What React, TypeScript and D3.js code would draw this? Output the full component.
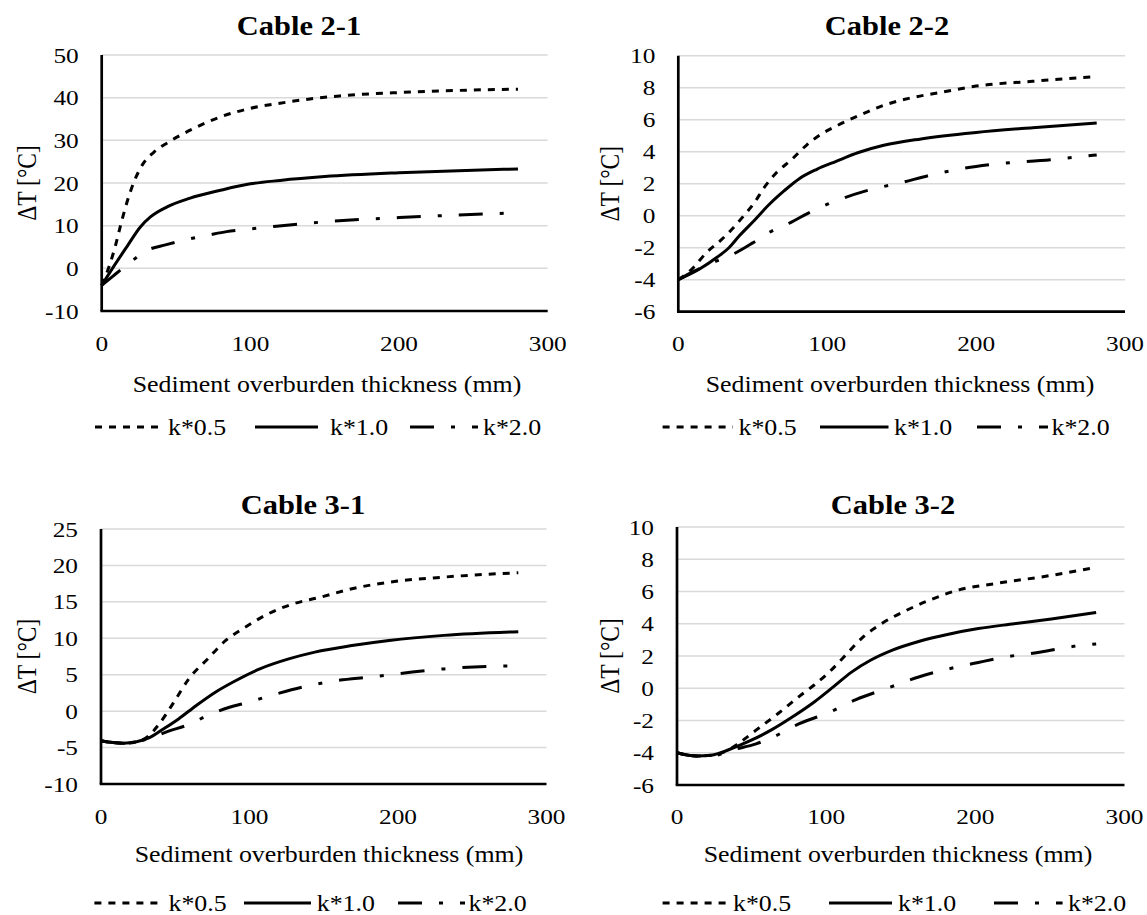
import React from "react";
import * as d3 from "d3";

// ---------- DATA ----------
const cableTitles = ["Cable 2-1", "Cable 2-2", "Cable 3-1", "Cable 3-2"];
const seriesNames = ["k*0.5", "k*1.0", "k*2.0"];
const xTicks = [0, 100, 200, 300];
const yTicks21 = [-10, 0, 10, 20, 30, 40, 50];
const yTicks22 = [-6, -4, -2, 0, 2, 4, 6, 8, 10];
const yTicks31 = [-10, -5, 0, 5, 10, 15, 20, 25];
const yTicks32 = [-6, -4, -2, 0, 2, 4, 6, 8, 10];

// Cable 2-1
const c21_k05_x = [0, 3, 6, 9, 13, 17, 22, 28, 35, 44, 53, 62, 80, 100, 120, 140, 160, 200, 240, 280];
const c21_k05_y = [-4, -1.5, 1.5, 5, 10.5, 15.5, 20.5, 24.6, 27.2, 29.4, 31.2, 32.8, 35.5, 37.5, 38.7, 39.7, 40.4, 41.2, 41.7, 42];
const c21_k10_x = [0, 8, 17, 26, 33, 44, 59, 80, 100, 120, 150, 200, 240, 280];
const c21_k10_y = [-4, 0.4, 5.1, 9.7, 12.1, 14.4, 16.4, 18.3, 19.8, 20.6, 21.5, 22.4, 22.9, 23.3];
const c21_k20_x = [0, 7, 17, 31, 43, 55, 72, 84, 96, 113, 150, 200, 240, 280];
const c21_k20_y = [-4, -2, 0.8, 4.3, 5.5, 6.6, 7.8, 8.6, 9.1, 9.7, 10.9, 11.9, 12.5, 13];

// Cable 2-2
const c22_k05_x = [0, 9, 19, 29, 36, 44, 51, 58, 66, 76, 86, 96, 106, 121, 138, 158, 176, 200, 238, 281];
const c22_k05_y = [-4, -3.35, -2.3, -1.5, -0.85, 0, 0.8, 1.8, 2.7, 3.5, 4.4, 5.1, 5.6, 6.25, 6.9, 7.4, 7.7, 8.1, 8.4, 8.7];
const c22_k10_x = [0, 14, 26, 34, 41, 51, 61, 71, 81, 93, 106, 121, 138, 163, 200, 238, 281];
const c22_k10_y = [-4, -3.35, -2.6, -2, -1.26, -0.3, 0.7, 1.55, 2.3, 2.9, 3.4, 3.95, 4.4, 4.8, 5.2, 5.5, 5.8];
const c22_k20_x = [0, 11, 24, 39, 50, 61, 76, 87, 101, 126, 151, 168, 188, 210, 250, 281];
const c22_k20_y = [-4, -3.45, -2.9, -2.3, -1.7, -1.05, -0.4, 0.15, 0.75, 1.55, 2.1, 2.5, 2.9, 3.2, 3.5, 3.8];

// Cable 3-1
const c31_k05_x = [0, 8, 15, 24, 32, 39, 49, 59, 72, 84, 97, 112, 129, 147, 169, 194, 231, 281];
const c31_k05_y = [-4.05, -4.3, -4.4, -4.2, -3.4, -1.8, 1.2, 4.4, 7.2, 9.7, 11.5, 13.3, 14.7, 15.6, 16.8, 17.7, 18.4, 19];
const c31_k10_x = [0, 8, 15, 24, 33, 42, 52, 64, 77, 89, 107, 127, 144, 169, 194, 231, 281];
const c31_k10_y = [-4.05, -4.3, -4.4, -4.2, -3.6, -2.45, -1.1, 0.75, 2.6, 4, 5.8, 7.2, 8.1, 9, 9.7, 10.4, 10.9];
const c31_k20_x = [0, 8, 15, 24, 33, 46, 57, 74, 86, 97, 117, 138, 156, 182, 207, 231, 281];
const c31_k20_y = [-4.05, -4.3, -4.4, -4.2, -3.7, -2.7, -2, -0.4, 0.5, 1.1, 2.3, 3.4, 4.1, 4.7, 5.3, 5.8, 6.25];

// Cable 3-2
const c32_k05_x = [0, 13, 23, 35, 40, 53, 68, 82, 92, 102, 112, 125, 137, 152, 169, 189, 214, 251, 281];
const c32_k05_y = [-4, -4.2, -4.15, -3.8, -3.5, -2.6, -1.55, -0.5, 0.2, 1.0, 1.95, 3.2, 4, 4.75, 5.45, 6.1, 6.5, 7.0, 7.5];
const c32_k10_x = [0, 13, 23, 35, 48, 63, 77, 92, 105, 117, 130, 144, 162, 182, 202, 226, 251, 281];
const c32_k10_y = [-4, -4.2, -4.15, -3.8, -3.3, -2.6, -1.8, -0.85, 0.1, 1.0, 1.75, 2.35, 2.9, 3.35, 3.7, 4.0, 4.3, 4.7];
const c32_k20_x = [0, 13, 23, 38, 53, 65, 82, 102, 120, 141, 162, 182, 202, 221, 244, 266, 281];
const c32_k20_y = [-4, -4.2, -4.2, -3.8, -3.45, -3, -2.2, -1.5, -0.7, 0, 0.7, 1.2, 1.6, 1.95, 2.25, 2.6, 2.75];

const panelData = [
  { ticks: yTicks21, series: [[c21_k05_x, c21_k05_y], [c21_k10_x, c21_k10_y], [c21_k20_x, c21_k20_y]] },
  { ticks: yTicks22, series: [[c22_k05_x, c22_k05_y], [c22_k10_x, c22_k10_y], [c22_k20_x, c22_k20_y]] },
  { ticks: yTicks31, series: [[c31_k05_x, c31_k05_y], [c31_k10_x, c31_k10_y], [c31_k20_x, c31_k20_y]] },
  { ticks: yTicks32, series: [[c32_k05_x, c32_k05_y], [c32_k10_x, c32_k10_y], [c32_k20_x, c32_k20_y]] },
];

// ---------- LAYOUT ----------
const layouts = [
  { x0: 101.7, x1: 547.7, y0: 55, y1: 311, titleX: 299, titleY: 35, yLabX: 28, xLabX: 327, xLabY: 392, tickY: 350.5, legY: 427,
    legend: [[95, 160, 168], [255, 318, 330], [410, 478, 483]] },
  { x0: 678.3, x1: 1125, y0: 55.7, y1: 311.7, titleX: 887, titleY: 35, yLabX: 611, xLabX: 900, xLabY: 392, tickY: 350.5, legY: 427,
    legend: [[662.6, 733, 738.5], [820, 888.5, 894], [977, 1048, 1051.5]] },
  { x0: 101, x1: 546.5, y0: 529, y1: 784, titleX: 303, titleY: 514, yLabX: 28, xLabX: 329, xLabY: 862, tickY: 823.5, legY: 903,
    legend: [[94.4, 163, 168.5], [244, 311, 316.7], [398, 465, 468.5]] },
  { x0: 677, x1: 1124.5, y0: 527, y1: 785, titleX: 893, titleY: 514, yLabX: 611, xLabX: 898, xLabY: 862, tickY: 823.5, legY: 903,
    legend: [[662.6, 729, 733], [829, 892, 898], [994, 1062.6, 1068]] },
];

const FONT = "Liberation Serif, DejaVu Serif, serif";
const SX = 1.15;
const dashes = ["7,7", null, "24,17,4,17"];

function T({ x, y, size, anchor = "start", bold = false, rotate = false, children }: any) {
  return (
    <text
      transform={`translate(${x},${y}) scale(${SX},1)${rotate ? " rotate(-90)" : ""}`}
      style={{ fontFamily: FONT, fontSize: size + "px", fontWeight: bold ? 700 : 400 }}
      textAnchor={anchor}
      fill="#000"
    >
      {children}
    </text>
  );
}

function Panel({ idx }: { idx: number }) {
  const L = layouts[idx];
  const D = panelData[idx];
  const ticks = D.ticks;
  const x = d3.scaleLinear().domain([0, 300]).range([L.x0, L.x1]);
  const y = d3.scaleLinear().domain([ticks[0], ticks[ticks.length - 1]]).range([L.y1, L.y0]);
  const line = d3
    .line<[number, number]>()
    .x((d) => x(d[0]))
    .y((d) => y(d[1]))
    .curve(d3.curveMonotoneX);
  return (
    <g>
      <T x={L.titleX} y={L.titleY} size={26.5} anchor="middle" bold>
        {cableTitles[idx]}
      </T>
      {ticks.slice(1).map((t) => (
        <line key={"g" + t} x1={L.x0} x2={L.x1} y1={y(t)} y2={y(t)} stroke="#d9d9d9" strokeWidth={1.5} />
      ))}
      {ticks.map((t) => (
        <T key={"yl" + t} x={L.x0 - 23} y={y(t) + 7.5} size={22} anchor="end">
          {t}
        </T>
      ))}
      {xTicks.map((t) => (
        <T key={"xl" + t} x={x(t)} y={L.tickY} size={22} anchor="middle">
          {t}
        </T>
      ))}
      {D.series.map((s, si) => {
        const pts: [number, number][] = s[0].map((v, i) => [v, s[1][i]]);
        return (
          <path
            key={"s" + si}
            d={line(pts) || ""}
            fill="none"
            stroke="#000"
            strokeWidth={3}
            strokeDasharray={dashes[si] || undefined}
          />
        );
      })}
      <line x1={L.x0} x2={L.x0} y1={L.y0} y2={L.y1} stroke="#000" strokeWidth={2.7} />
      <line x1={L.x0 - 1.3} x2={L.x1} y1={L.y1} y2={L.y1} stroke="#000" strokeWidth={2.7} />
      <T x={L.yLabX + 8} y={(L.y0 + L.y1) / 2} size={23.5} anchor="middle" rotate>
        ΔT [°C]
      </T>
      <T x={L.xLabX} y={L.xLabY} size={22.5} anchor="middle">
        Sediment overburden thickness (mm)
      </T>
      {L.legend.map((lg, li) => (
        <g key={"lg" + li}>
          <line
            x1={lg[0]}
            x2={lg[1]}
            y1={L.legY}
            y2={L.legY}
            stroke="#000"
            strokeWidth={3}
            strokeDasharray={dashes[li] || undefined}
          />
          <T x={lg[2]} y={L.legY + 7.5} size={22.5}>
            {seriesNames[li]}
          </T>
        </g>
      ))}
    </g>
  );
}

export default function App() {
  return (
    <svg
      width={1147}
      height={915}
      viewBox="0 0 1147 915"
      style={{ position: "absolute", left: 0, top: 0, display: "block", background: "#fff" }}
    >
      <rect x={0} y={0} width={1147} height={915} fill="#fff" />
      {[0, 1, 2, 3].map((i) => (
        <Panel key={i} idx={i} />
      ))}
    </svg>
  );
}
